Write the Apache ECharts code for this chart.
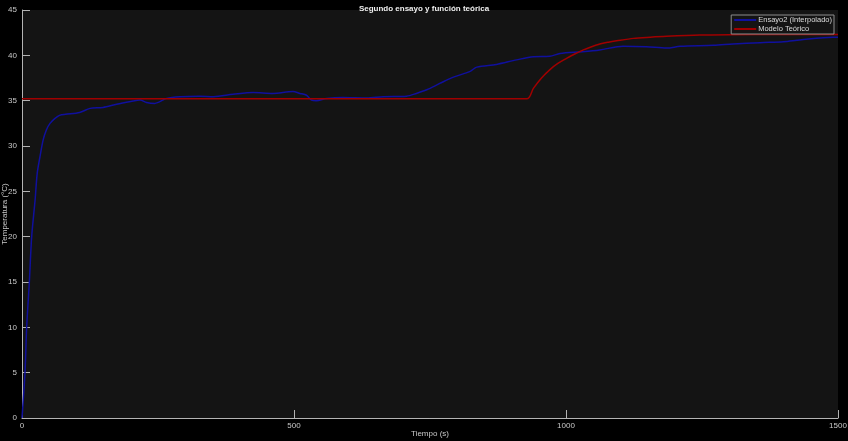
<!DOCTYPE html>
<html>
<head>
<meta charset="utf-8">
<script src="https://cdn.jsdelivr.net/npm/echarts@6/dist/echarts.min.js"></script>
<style>
html,body{margin:0;padding:0;background:#000;}
#c{width:848px;height:441px;}
</style>
</head>
<body>
<div id="c"></div>
<script>
// Data
var ensayoT = [0,5.5,8.6,13.5,17.8,24,28,33,39,45,51.5,60.7,70,80,106,125,149,174,200,217,229,244,266,290,327,352,388,425,461,498,511,523,532,541,560,590,634,664,707,725,744,768,793,823,836,872,909,940,970,989,1030,1062,1105,1148,1185,1210,1271,1307,1357,1400,1430,1491,1500];
var ensayoV = [0,5,10,15,20,24,27,28.8,30.7,31.8,32.5,33.05,33.4,33.5,33.7,34.15,34.25,34.6,34.9,35.07,34.8,34.7,35.25,35.44,35.5,35.44,35.7,35.9,35.8,36.0,35.8,35.6,35.07,35.0,35.25,35.35,35.3,35.44,35.5,35.8,36.2,36.9,37.6,38.2,38.7,39.0,39.5,39.85,39.9,40.2,40.4,40.6,41.0,40.95,40.8,41.0,41.1,41.25,41.4,41.5,41.7,42.0,42.0];
var modeloT = [0,928,940,955,970,985,1001,1016,1032,1047,1062,1078,1093,1124,1155,1185,1246,1300,1400,1500];
var modeloV = [35.2,35.2,36.35,37.5,38.4,39.1,39.66,40.15,40.6,40.95,41.25,41.45,41.6,41.87,42.0,42.1,42.24,42.28,42.3,42.3];
var xTicks = [0,500,1000,1500];
var yTicks = [0,5,10,15,20,25,30,35,40,45];
var seriesNames = ['Ensayo2 (Interpolado)','Modelo Teórico'];
var titleText = 'Segundo ensayo y función teórica';
var xName = 'Tiempo (s)';
var yName = 'Temperatura (°C)';

function zip(a,b){var r=[];for(var i=0;i<a.length;i++)r.push([a[i],b[i]]);return r;}

var chart = echarts.init(document.getElementById('c'), null, {renderer:'canvas'});
var axisCol = '#b4b4b4';
var lblCol = '#c8c8c8';
var font = 'Liberation Sans, Arial, sans-serif';
chart.setOption({
  backgroundColor:'#000',
  animation:false,
  title:{text:titleText,left:'center',top:0,textStyle:{color:'#f0f0f0',fontSize:8,fontWeight:'bold',fontFamily:font}},
  legend:{
    data:seriesNames, orient:'vertical', right:14, top:15,
    backgroundColor:'#141414', borderColor:'#8c8c8c', borderWidth:1, borderRadius:0,
    padding:[1,2,1,3], itemGap:1, itemWidth:22, itemHeight:2, icon:'rect',
    textStyle:{color:'#dcdcdc',fontSize:7.5,fontFamily:font,padding:[0,0,0,-3]}
  },
  grid:{left:22,right:10,top:10,bottom:23,containLabel:false,outerBoundsMode:'none',show:true,backgroundColor:'#141414',borderWidth:0},
  xAxis:{
    type:'value', min:xTicks[0], max:xTicks[xTicks.length-1], interval:500,
    name:xName, nameLocation:'middle', nameGap:12, nameMoveOverlap:false,
    nameTextStyle:{color:lblCol,fontSize:8,fontFamily:font},
    axisLine:{show:true,lineStyle:{color:axisCol,width:1}},
    axisTick:{show:true,inside:true,length:8,lineStyle:{color:axisCol}},
    axisLabel:{color:lblCol,fontSize:8,fontFamily:font,margin:4,formatter:function(v){return String(v);}},
    splitLine:{show:false}
  },
  yAxis:{
    type:'value', min:yTicks[0], max:yTicks[yTicks.length-1], interval:5,
    name:yName, nameLocation:'middle', nameGap:13, nameMoveOverlap:false,
    nameTextStyle:{color:lblCol,fontSize:8,fontFamily:font},
    axisLine:{show:true,lineStyle:{color:axisCol,width:1}},
    axisTick:{show:true,inside:true,length:8,lineStyle:{color:axisCol}},
    axisLabel:{color:lblCol,fontSize:8,fontFamily:font,margin:5,formatter:function(v){return String(v);}},
    splitLine:{show:false}
  },
  series:[
    {name:seriesNames[0],type:'line',data:zip(ensayoT,ensayoV),showSymbol:false,smooth:0.3,
     lineStyle:{color:'#10109e',width:1.5},itemStyle:{color:'#10109e'}},
    {name:seriesNames[1],type:'line',data:zip(modeloT,modeloV),showSymbol:false,smooth:0.3,
     lineStyle:{color:'#a00000',width:1.5},itemStyle:{color:'#a00000'}}
  ]
});
</script>
</body>
</html>
